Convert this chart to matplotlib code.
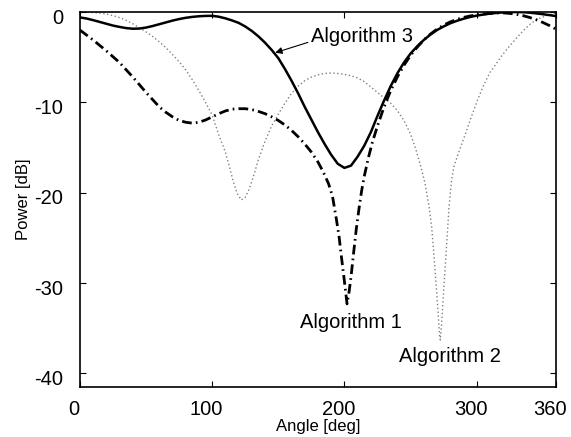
import matplotlib
matplotlib.use("Agg")
import matplotlib.pyplot as plt
from matplotlib.transforms import ScaledTranslation

plt.rcParams['font.family'] = ['Liberation Sans', 'DejaVu Sans']
plt.rcParams['lines.scale_dashes'] = False

# Algorithm 3 (solid)
alg3_x = [0, 5, 10, 15, 20, 25, 30, 35, 40, 45, 50, 55, 60, 65, 70, 75, 80, 85, 90, 95, 100,
          105, 110, 115, 120, 125, 130, 135, 140, 145, 150, 155, 160, 165, 170, 175, 180, 185,
          190, 195, 200, 205, 210, 215, 220, 225, 230, 235, 240, 245, 250, 255, 260, 265, 270,
          275, 280, 285, 290, 295, 300, 305, 310, 315, 320, 325, 330, 335, 340, 345, 350, 355, 360]
alg3_y = [-0.6, -0.72, -0.9, -1.1, -1.3, -1.5, -1.65, -1.78, -1.85, -1.83, -1.72, -1.55, -1.35,
          -1.15, -0.95, -0.78, -0.64, -0.54, -0.47, -0.43, -0.42, -0.52, -0.7, -0.93, -1.2, -1.6,
          -2.1, -2.7, -3.4, -4.2, -5.1, -6.3, -7.6, -9.0, -10.5, -11.9, -13.3, -14.6, -15.8,
          -16.8, -17.25, -17.0, -16.0, -14.8, -13.3, -11.5, -9.8, -8.2, -6.8, -5.6, -4.6, -3.8,
          -3.1, -2.5, -2.0, -1.6, -1.25, -0.98, -0.75, -0.55, -0.4, -0.28, -0.18, -0.1, -0.04,
          -0.01, 0.0, -0.02, -0.07, -0.15, -0.24, -0.34, -0.45]

# Algorithm 1 (dash-dot)
alg1_x = [0, 5, 10, 15, 20, 25, 30, 35, 40, 45, 50, 55, 60, 65, 70, 75, 80, 85, 90, 95, 100,
          105, 110, 115, 120, 125, 130, 135, 140, 145, 150, 155, 160, 165, 170, 175, 180, 184,
          188, 191, 194, 196, 198, 200, 202, 203.5, 205, 207, 209, 211, 213, 215, 218, 221, 225,
          230, 235, 240, 245, 250, 255, 260, 265, 270, 275, 280, 285, 290, 295, 300, 305, 310,
          315, 320, 325, 330, 335, 340, 345, 350, 355, 360]
alg1_y = [-2.0, -2.55, -3.1, -3.7, -4.3, -4.95, -5.6, -6.4, -7.2, -8.05, -8.9, -9.7, -10.5,
          -11.1, -11.6, -12.0, -12.2, -12.3, -12.2, -11.95, -11.6, -11.25, -10.95, -10.75, -10.7,
          -10.7, -10.8, -11.0, -11.25, -11.6, -12.0, -12.5, -13.1, -13.8, -14.6, -15.5, -16.6,
          -17.7, -19.0, -20.4, -23.0, -24.9, -27.4, -29.8, -32.3, -31.0, -29.3, -26.6, -24.0,
          -21.8, -19.8, -18.2, -16.2, -14.5, -12.6, -10.5, -8.7, -7.2, -5.9, -4.8, -3.9, -3.1,
          -2.45, -1.9, -1.45, -1.1, -0.82, -0.6, -0.44, -0.32, -0.22, -0.15, -0.11, -0.1, -0.15,
          -0.25, -0.4, -0.6, -0.85, -1.15, -1.5, -1.9]

# Algorithm 2 (dotted)
alg2_x = [0, 5, 10, 15, 20, 25, 30, 35, 40, 45, 50, 55, 60, 65, 70, 75, 80, 85, 90, 95, 100,
          105, 110, 113, 116, 119, 122, 125, 128, 131, 135, 140, 145, 150, 155, 160, 165, 170,
          175, 180, 185, 190, 195, 200, 205, 210, 215, 220, 225, 230, 235, 240, 245, 250, 254,
          258, 261, 264, 266, 268, 270, 272, 272.5, 273.5, 275, 277, 279, 281, 283, 287, 291,
          295, 300, 305, 310, 315, 320, 325, 330, 335, 340, 345, 350, 355, 360]
alg2_y = [0.0, 0.0, -0.05, -0.12, -0.22, -0.4, -0.62, -0.92, -1.3, -1.75, -2.2, -2.7, -3.3,
          -3.95, -4.7, -5.5, -6.4, -7.5, -8.7, -10.0, -11.4, -13.6, -15.5, -17.1, -18.8, -20.1,
          -20.8, -20.5, -19.6, -18.3, -16.3, -14.3, -12.6, -11.3, -10.1, -9.0, -8.2, -7.6, -7.2,
          -6.95, -6.8, -6.75, -6.8, -6.9, -7.05, -7.3, -7.7, -8.3, -8.9, -9.5, -10.1, -10.9,
          -12.0, -13.5, -15.2, -17.2, -19.0, -21.5, -23.8, -27.5, -31.5, -35.8, -36.3, -34.5,
          -31.0, -26.5, -21.8, -18.6, -17.0, -15.3, -13.7, -12.0, -10.0, -8.2, -6.7, -5.7, -4.65,
          -3.75, -2.9, -2.1, -1.4, -0.85, -0.55, -0.3, -0.1]

xticks = [0, 100, 200, 300, 360]
yticks = [0, -10, -20, -30, -40]

fig = plt.figure(figsize=(5.71, 4.37), dpi=100)
ax = fig.add_axes([0.140, 0.1144, 0.8337, 0.8581])

ax.plot(alg2_x, alg2_y, color='#808080', lw=1.0, linestyle=(0, (1.0, 1.8)))
ax.plot(alg1_x, alg1_y, color='black', lw=2.0, linestyle=(0, (7.0, 3.0, 1.2, 3.0)))
ax.plot(alg3_x, alg3_y, color='black', lw=1.8)

ax.set_xlim(0, 360)
ax.set_ylim(-41.5, 0)
ax.set_xticks(xticks)
ax.set_yticks(yticks)
ax.set_xticklabels([str(v) for v in xticks])
ax.set_yticklabels([str(v) for v in yticks])
ax.tick_params(direction='in', length=4, width=0.8, top=True, right=True, labelsize=14.5)
ax.tick_params(axis='x', pad=9.5)
ax.tick_params(axis='y', pad=12)
for s in ax.spines.values():
    s.set_linewidth(1.2)

xoff = ScaledTranslation(-6 / 100, 0, fig.dpi_scale_trans)
yoff = ScaledTranslation(0, -4 / 100, fig.dpi_scale_trans)
for lbl in ax.get_xticklabels():
    lbl.set_transform(lbl.get_transform() + xoff)
for lbl in ax.get_yticklabels():
    lbl.set_transform(lbl.get_transform() + yoff)

ax.set_xlabel('Angle [deg]', fontsize=12, labelpad=0)
ax.set_ylabel('Power [dB]', fontsize=12, labelpad=2)

ax.annotate('Algorithm 3', xy=(147.7, -4.5), xytext=(174.5, -2.74),
            fontsize=14.5, ha='left', va='center',
            arrowprops=dict(arrowstyle='-|>', color='black', lw=0.8,
                            mutation_scale=10, shrinkA=0, shrinkB=0, relpos=(0, 0.25)))
ax.text(205, -34.4, 'Algorithm 1', fontsize=14.5, ha='center', va='center')
ax.text(280, -38.1, 'Algorithm 2', fontsize=14.5, ha='center', va='center')

fig.savefig('out.png', dpi=100)
